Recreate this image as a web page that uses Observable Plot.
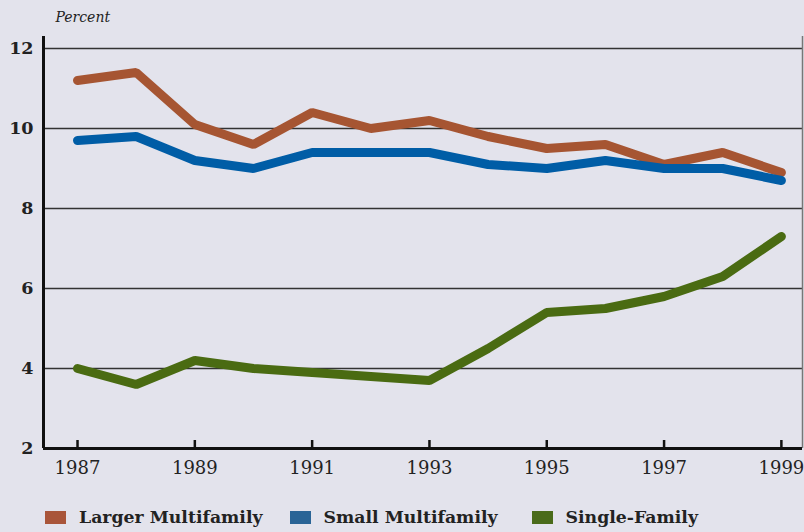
<!DOCTYPE html>
<html>
<head>
<meta charset="utf-8">
<script src="https://cdn.jsdelivr.net/npm/d3@7"></script>
<script src="https://cdn.jsdelivr.net/npm/@observablehq/plot@0.6"></script>
<style>
  html, body { margin: 0; padding: 0; background: #E3E3EC; }
  #wrap { width: 804px; height: 532px; position: relative; overflow: hidden; font-family: "DejaVu Serif", serif; }
  #legend { position: absolute; left: 45px; top: 507px; display: flex; align-items: center; font-weight: bold; font-size: 17.3px; color: #222; }
  .item { display: flex; align-items: center; margin-right: 27px; }
  .item:nth-child(2) { margin-right: 34px; }
  .sw { width: 21px; height: 13px; margin-right: 13px; }
</style>
</head>
<body>
<div id="wrap"></div>
<script>
const years = [1987,1988,1989,1990,1991,1992,1993,1994,1995,1996,1997,1998,1999];
const largerMulti = [11.2,11.4,10.1,9.6,10.4,10.0,10.2,9.8,9.5,9.6,9.1,9.4,8.9];
const smallMulti  = [9.7,9.8,9.2,9.0,9.4,9.4,9.4,9.1,9.0,9.2,9.0,9.0,8.7];
const singleFam   = [4.0,3.6,4.2,4.0,3.9,3.8,3.7,4.5,5.4,5.5,5.8,6.3,7.3];
const seriesNames = ["Larger Multifamily","Small Multifamily","Single-Family"];
const lineColors  = ["#A65532","#005DA6","#4A6B12"];
const swatchColors = ["#A9553A","#2A6496","#4A6B1A"];
const xTicks = [1987,1989,1991,1993,1995,1997,1999];
const yTicks = [2,4,6,8,10,12];
const xDomain = [1986.42, 1999.36];
const yDomain = [2, 12.3];

const data = [];
[largerMulti, smallMulti, singleFam].forEach((arr, i) => {
  arr.forEach((v, j) => data.push({series: seriesNames[i], year: years[j], value: v}));
});

const chart = Plot.plot({
  width: 804,
  height: 480,
  marginLeft: 43,
  marginRight: 2,
  marginTop: 36,
  marginBottom: 32,
  style: {background: "transparent", fontFamily: "DejaVu Serif, serif", fontSize: "16px", color: "#222"},
  x: {domain: xDomain, label: null},
  y: {domain: yDomain, label: null},
  color: {domain: seriesNames, range: lineColors},
  marks: [
    Plot.ruleY(yTicks.filter(d => d > 2), {stroke: "#333", strokeWidth: 1.5}),
    Plot.ruleX([xDomain[1]], {stroke: "#777", strokeWidth: 1.5}),
    Plot.line(data, {x: "year", y: "value", z: "series", stroke: "series", strokeWidth: 9, strokeLinecap: "round", strokeLinejoin: "miter"}),
    Plot.ruleX([xDomain[0]], {stroke: "#111", strokeWidth: 3}),
    Plot.ruleY([yDomain[0]], {stroke: "#111", strokeWidth: 3}),
    Plot.axisY({ticks: yTicks, tickSize: 0, tickPadding: 10, fontWeight: "bold", fontSize: 17.5, tickFormat: d => String(d), color: "#222", label: null}),
    Plot.axisX({ticks: xTicks, tickSize: -8, tickPadding: 21, tickFormat: d => String(d), stroke: "#111", strokeWidth: 2.5, fontSize: 18, label: null}),
    Plot.text(["Percent"], {frameAnchor: "top-left", dx: 12, dy: -24, fontStyle: "italic", fontSize: 14, fill: "#222"})
  ]
});

const wrap = document.getElementById("wrap");
wrap.appendChild(chart);
const legend = document.createElement("div");
legend.id = "legend";
seriesNames.forEach((name, i) => {
  const it = document.createElement("div");
  it.className = "item";
  const sw = document.createElement("div");
  sw.className = "sw";
  sw.style.background = swatchColors[i];
  const lab = document.createElement("span");
  lab.textContent = name;
  it.appendChild(sw); it.appendChild(lab);
  legend.appendChild(it);
});
wrap.appendChild(legend);
</script>
</body>
</html>
